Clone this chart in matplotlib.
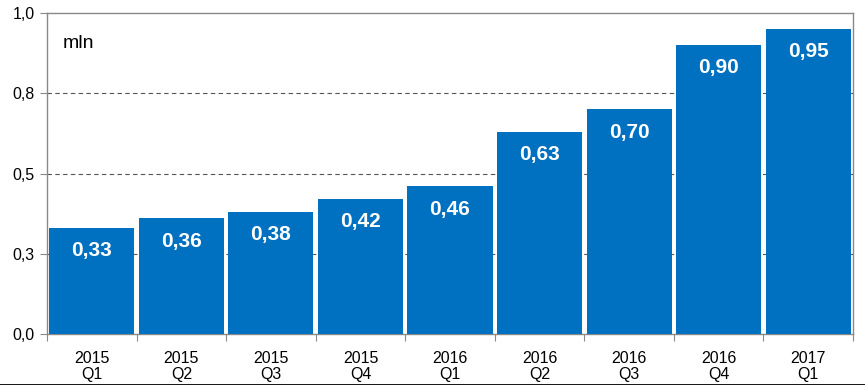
import matplotlib.pyplot as plt
from matplotlib.lines import Line2D
import numpy as np

plt.rcParams['font.family'] = ['Liberation Sans', 'DejaVu Sans']

# data
years = ['2015', '2015', '2015', '2015', '2016', '2016', '2016', '2016', '2017']
quarters = ['Q1', 'Q2', 'Q3', 'Q4', 'Q1', 'Q2', 'Q3', 'Q4', 'Q1']
values = [0.33, 0.36, 0.38, 0.42, 0.46, 0.63, 0.70, 0.90, 0.95]
y_ticks = [0.0, 0.25, 0.5, 0.75, 1.0]
y_tick_labels = ['0,0', '0,3', '0,5', '0,8', '1,0']

blue = '#0070C0'
grey = '#898989'

fig = plt.figure(figsize=(8.65, 3.85), dpi=100)
ax = fig.add_axes([47 / 865, 51 / 385, 806 / 865, 321 / 385])

x = np.arange(len(values))
ax.bar(x, values, width=0.95, color=blue, zorder=3)

for xi, v in zip(x, values):
    ax.text(xi, v - 0.071, f'{v:.2f}'.replace('.', ','), ha='center', va='center',
            color='white', fontsize=15, fontweight='bold', zorder=4)

ax.set_xlim(-0.5, len(values) - 0.5)
ax.set_ylim(0, 1.0)
ax.set_yticks(y_ticks)
ax.set_yticklabels(y_tick_labels, fontsize=11.5)
ax.set_xticks(np.arange(len(values) + 1) - 0.5)
ax.set_xticklabels([])
ax.set_xticks(x, minor=True)
ax.set_xticklabels([f'{y}\n{q}' for y, q in zip(years, quarters)], minor=True,
                   fontsize=11.5, linespacing=1.15)
ax.tick_params(axis='x', which='minor', length=0, pad=12)
ax.tick_params(axis='x', which='major', length=5, color=grey)
ax.tick_params(axis='y', length=5, color=grey, pad=4)

for gy in y_ticks[1:-1]:
    ax.axhline(gy, color='#555555', lw=0.8, ls=(0, (4, 3)), zorder=1)

for s in ax.spines.values():
    s.set_color(grey)
    s.set_linewidth(1.0)

ax.text(0.02, 0.905, 'mln', transform=ax.transAxes, fontsize=14, va='center')

fig.add_artist(Line2D([0, 1], [0.5 / 385, 0.5 / 385], color='black', lw=2,
                      transform=fig.transFigure))

fig.savefig('out.png', dpi=100)
